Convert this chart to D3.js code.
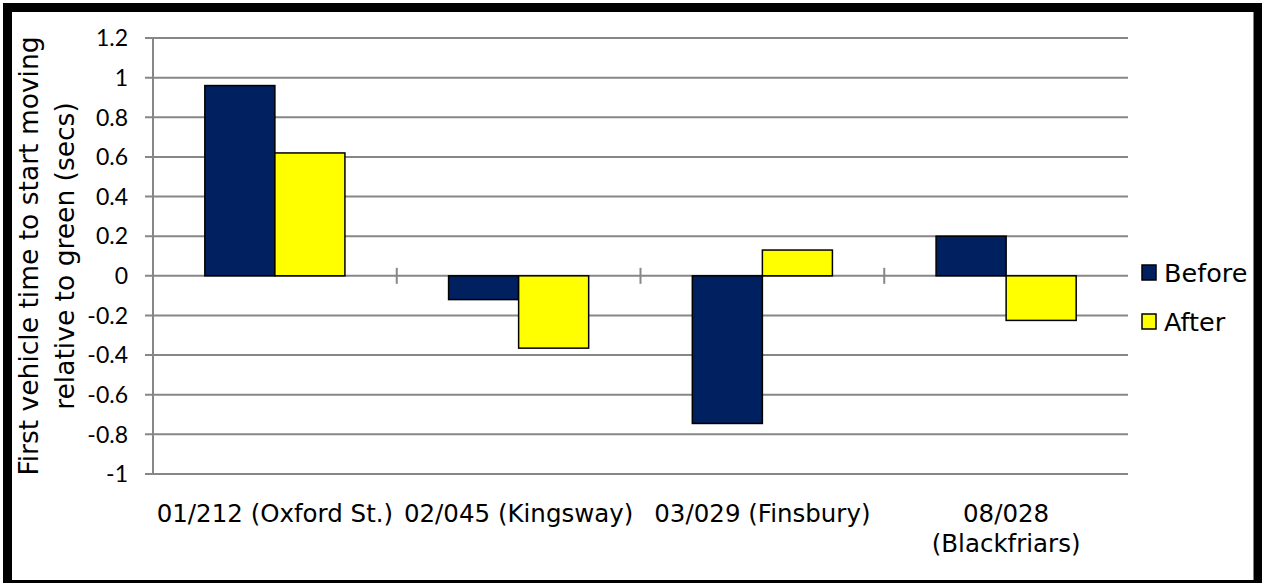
<!DOCTYPE html>
<html><head><meta charset="utf-8">
<script src="https://cdn.jsdelivr.net/npm/d3@7"></script>
<style>body{margin:0;background:#fff}svg{display:block}</style>
</head><body>
<svg id="c" width="1262" height="583"></svg>
<script>
const categories = ["01/212 (Oxford St.)", "02/045 (Kingsway)", "03/029 (Finsbury)", "08/028 (Blackfriars)"];
const categoryLines = [["01/212 (Oxford St.)"], ["02/045 (Kingsway)"], ["03/029 (Finsbury)"], ["08/028", "(Blackfriars)"]];
const seriesNames = ["Before", "After"];
const beforeValues = [0.96, -0.12, -0.745, 0.2];
const afterValues = [0.62, -0.365, 0.13, -0.225];
const yTicks = [1.2, 1, 0.8, 0.6, 0.4, 0.2, 0, -0.2, -0.4, -0.6, -0.8, -1];
const yTickLabels = ["1.2", "1", "0.8", "0.6", "0.4", "0.2", "0", "-0.2", "-0.4", "-0.6", "-0.8", "-1"];
const colors = ["#002060", "#FFFF00"];
const yTitle = ["First vehicle time to start moving", "relative to green (secs)"];

const svg = d3.select("#c");
// frame
svg.append("rect").attr("x", 7.5).attr("y", 7.5).attr("width", 1250.5).attr("height", 577)
  .attr("fill", "#fff").attr("stroke", "#000").attr("stroke-width", 9);

const L = 153, R = 1128, T = 38, B = 474;
const y = d3.scaleLinear().domain([-1, 1.2]).range([B, T]);
const x0 = d3.scaleBand().domain(categories).range([L, R]).paddingInner(0).paddingOuter(0);
const x1 = d3.scaleBand().domain(seriesNames).range([0, x0.bandwidth()]).paddingInner(0).paddingOuter(0.74);

const grid = "#878787";
// gridlines
svg.append("g").selectAll("line").data(yTicks).join("line")
  .attr("x1", L - 8).attr("x2", R).attr("y1", d => y(d)).attr("y2", d => y(d))
  .attr("stroke", grid).attr("stroke-width", 2);
// y axis line
svg.append("line").attr("x1", L).attr("x2", L).attr("y1", T).attr("y2", B).attr("stroke", grid).attr("stroke-width", 2);
// y tick labels
svg.append("g").selectAll("text").data(yTicks).join("text")
  .attr("x", 128).attr("y", d => y(d)).attr("dy", "0.36em").attr("text-anchor", "end")
  .attr("font-family", "Lato, 'Open Sans', sans-serif").attr("font-size", 23).attr("fill", "#000")
  .text((d, i) => yTickLabels[i]);
// category tick marks at zero line
svg.append("g").selectAll("line").data(categories.slice(1)).join("line")
  .attr("x1", d => x0(d)).attr("x2", d => x0(d)).attr("y1", y(0) - 8).attr("y2", y(0) + 8)
  .attr("stroke", grid).attr("stroke-width", 2);

// bars
const data = categories.map((c, i) => ({c, vals: [beforeValues[i], afterValues[i]]}));
const g = svg.append("g").selectAll("g").data(data).join("g").attr("transform", d => `translate(${x0(d.c)},0)`);
g.selectAll("rect").data(d => d.vals.map((v, j) => ({v, s: seriesNames[j], j}))).join("rect")
  .attr("x", d => x1(d.s)).attr("width", x1.bandwidth())
  .attr("y", d => Math.min(y(d.v), y(0))).attr("height", d => Math.abs(y(d.v) - y(0)))
  .attr("fill", d => colors[d.j]).attr("stroke", "#000").attr("stroke-width", 1.5);

// category labels
const cl = svg.append("g").selectAll("text").data(categories).join("text")
  .attr("x", d => x0(d) + x0.bandwidth() / 2).attr("y", 522)
  .attr("text-anchor", "middle").attr("font-family", "'DejaVu Sans', Verdana, sans-serif")
  .attr("font-size", 24.5).attr("fill", "#000");
cl.each(function(d, i) {
  d3.select(this).selectAll("tspan").data(categoryLines[i]).join("tspan")
    .attr("x", x0(d) + x0.bandwidth() / 2).attr("dy", (t, k) => k === 0 ? 0 : 30).text(t => t);
});

// y title
const yt = svg.append("text").attr("transform", `translate(0,${(T + B) / 2}) rotate(-90)`)
  .attr("text-anchor", "middle").attr("font-family", "'DejaVu Sans', Verdana, sans-serif")
  .attr("font-size", 26.5).attr("fill", "#000");
yt.selectAll("tspan").data(yTitle).join("tspan").attr("x", 0).attr("y", (d, i) => 38 + i * 36).text(d => d);

// legend
const lg = svg.append("g").selectAll("g").data(seriesNames).join("g")
  .attr("transform", (d, i) => `translate(1142,${265 + i * 49})`);
lg.append("rect").attr("width", 14).attr("height", 15).attr("fill", (d, i) => colors[i]).attr("stroke", "#000").attr("stroke-width", 1.5);
lg.append("text").attr("x", 22).attr("y", 17).attr("font-family", "'DejaVu Sans', Verdana, sans-serif")
  .attr("font-size", 25.5).attr("fill", "#000").text(d => d);
</script>
</body></html>
